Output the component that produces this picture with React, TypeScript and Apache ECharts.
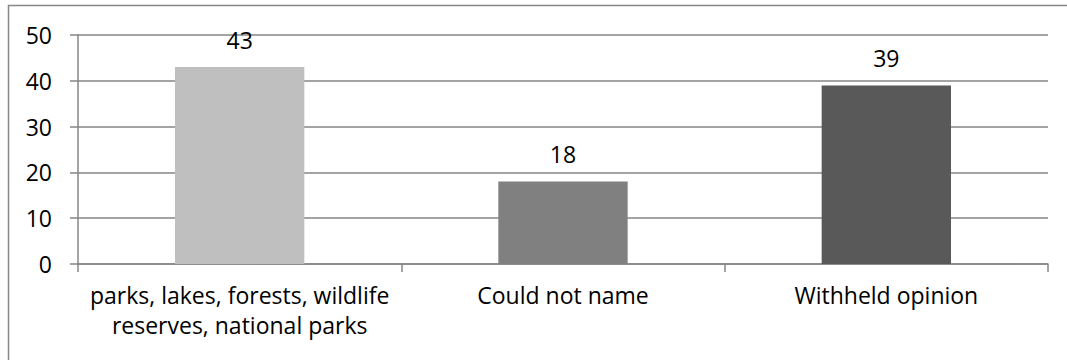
import React, { useEffect, useRef } from "react";
import * as echarts from "echarts";

const categories = [
  "parks, lakes, forests, wildlife\nreserves, national parks",
  "Could not name",
  "Withheld opinion",
];
const values = [43, 18, 39];
const barColors = ["#bfbfbf", "#808080", "#595959"];
const yTicks = { min: 0, max: 50, interval: 10 };

export default function App() {
  const ref = useRef<HTMLDivElement>(null);
  useEffect(() => {
    if (!ref.current) return;
    const chart = echarts.init(ref.current, null, { renderer: "svg" });
    const font = "'Open Sans', sans-serif";
    chart.setOption({
      animation: false,
      backgroundColor: "#ffffff",
      graphic: [
        {
          type: "rect",
          shape: { x: 8.5, y: 5.5, width: 1200, height: 500 },
          style: { fill: "none", stroke: "#868686", lineWidth: 1.5 },
          silent: true,
        },
      ],
      grid: { left: 78, right: 19, top: 35, bottom: 96, containLabel: false },
      xAxis: {
        type: "category",
        data: categories,
        axisLine: { show: true, lineStyle: { color: "#868686", width: 1.5 } },
        axisTick: { show: true, length: 8, alignWithLabel: false, lineStyle: { color: "#868686", width: 1.5 } },
        axisLabel: {
          color: "#000",
          fontSize: 23,
          fontFamily: font,
          margin: 16,
          lineHeight: 30,
          interval: 0,
        },
      },
      yAxis: {
        type: "value",
        min: yTicks.min,
        max: yTicks.max,
        interval: yTicks.interval,
        axisLine: { show: true, lineStyle: { color: "#868686", width: 1.5 } },
        axisTick: { show: true, length: 8, lineStyle: { color: "#868686", width: 1.5 } },
        splitLine: { show: true, lineStyle: { color: "#868686", width: 1.5 } },
        axisLabel: { color: "#000", fontSize: 23, fontFamily: font, margin: 26 },
      },
      series: [
        {
          type: "bar",
          data: values.map((v, i) => ({ value: v, itemStyle: { color: barColors[i] } })),
          barCategoryGap: "60%",
          label: {
            show: true,
            position: "top",
            distance: 16,
            color: "#000",
            fontSize: 23,
            fontFamily: font,
          },
        },
      ],
    });
    return () => chart.dispose();
  }, []);
  return (
    <div
      ref={ref}
      style={{ position: "absolute", left: 0, top: 0, width: 1067, height: 360 }}
    />
  );
}
